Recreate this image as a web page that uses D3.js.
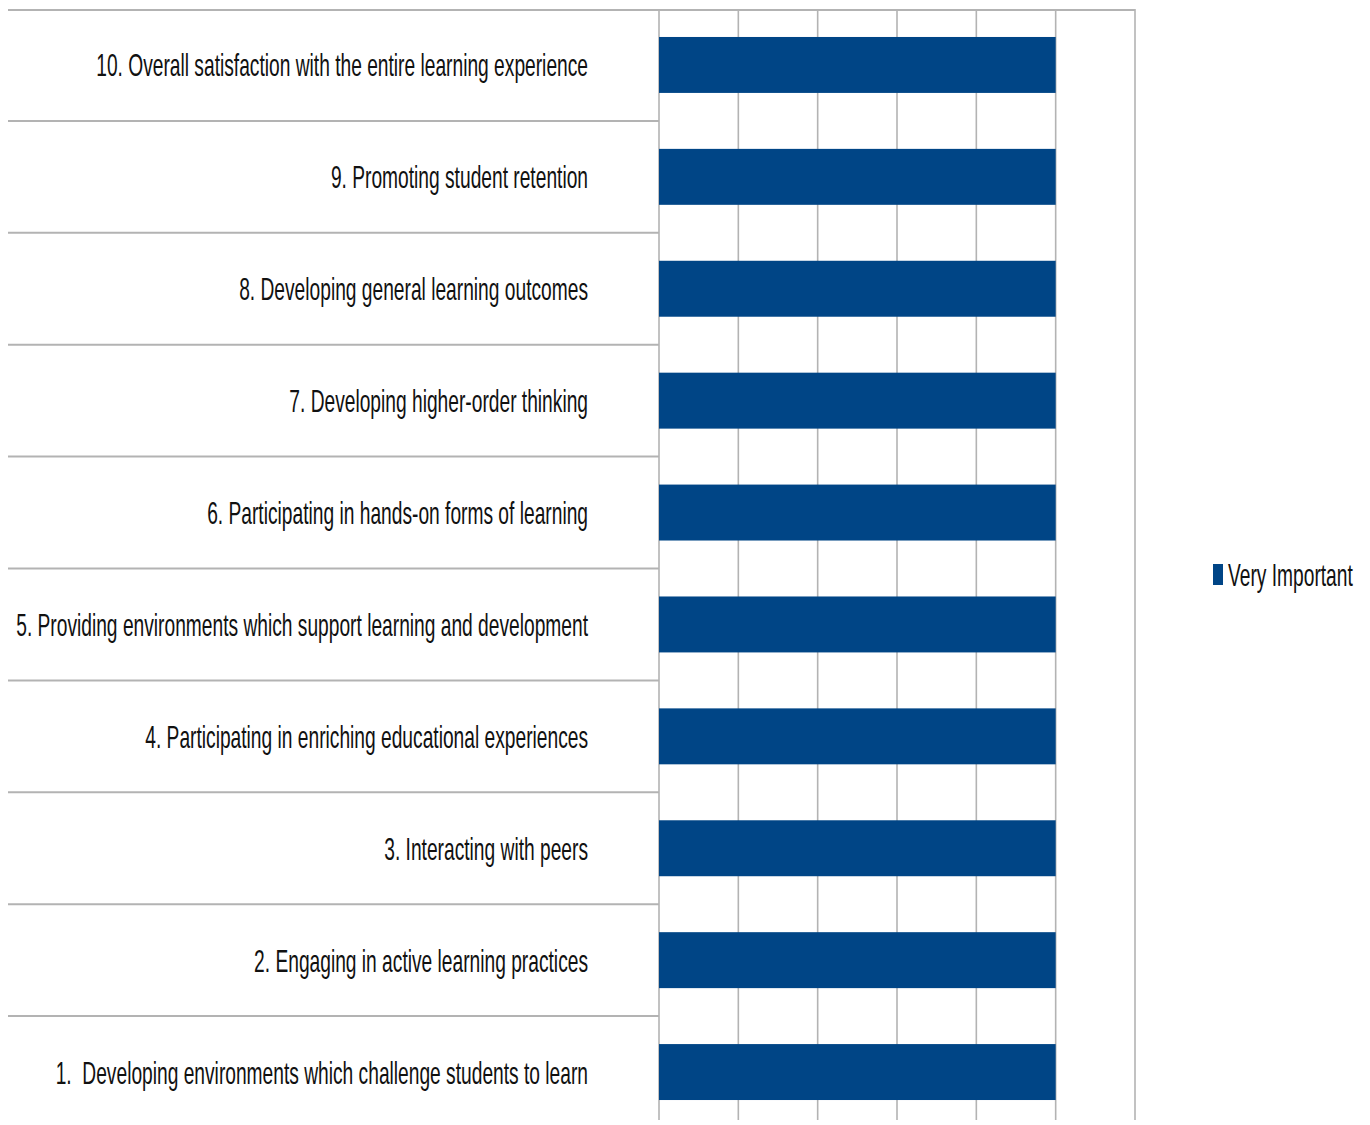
<!DOCTYPE html>
<html>
<head>
<meta charset="utf-8">
<script src="https://cdn.jsdelivr.net/npm/d3@7"></script>
<style>
  html, body { margin: 0; padding: 0; background: #fff; }
  svg { display: block; }
  text { white-space: pre; }
</style>
</head>
<body>
<svg id="chart" width="1370" height="1125"></svg>
<script>
// Outcome statements, listed top to bottom as they appear
const categories = [
  "10. Overall satisfaction with the entire learning experience",
  "9. Promoting student retention",
  "8. Developing general learning outcomes",
  "7. Developing higher-order thinking",
  "6. Participating in hands-on forms of learning",
  "5. Providing environments which support learning and development",
  "4. Participating in enriching educational experiences",
  "3. Interacting with peers",
  "2. Engaging in active learning practices",
  "1.  Developing environments which challenge students to learn"
];
const seriesName = "Very Important";
const veryImportant = [5, 5, 5, 5, 5, 5, 5, 5, 5, 5];
const xTicks = [0, 1, 2, 3, 4, 5, 6];

const svg = d3.select("#chart");
const barColor = "#004586";
const gridColor = "#b3b3b3";
const fontFamily = "'Liberation Sans', Arial, sans-serif";
const fontSize = 32;
const squeeze = 0.6;

const plotLeft = 659, plotRight = 1135, plotTop = 9, plotBottom = 1128;
const labelLeft = 8;

const x = d3.scaleLinear().domain([0, 6]).range([plotLeft, plotRight]);
const y = d3.scaleBand().domain(categories).range([plotTop, plotBottom]).paddingInner(0.5).paddingOuter(0.25);
const rows = d3.scaleBand().domain(categories).range([plotTop, plotBottom]);

// vertical gridlines
svg.append("g")
  .selectAll("line")
  .data(xTicks)
  .join("line")
  .attr("x1", d => x(d)).attr("x2", d => x(d))
  .attr("y1", plotTop).attr("y2", 1120)
  .attr("stroke", gridColor)
  .attr("stroke-width", 1.6);

// top border across the table and plot
svg.append("line")
  .attr("x1", labelLeft).attr("x2", plotRight)
  .attr("y1", plotTop + 1).attr("y2", plotTop + 1)
  .attr("stroke", gridColor).attr("stroke-width", 2);

// row separators in the label column
svg.append("g")
  .selectAll("line")
  .data(categories.slice(1))
  .join("line")
  .attr("x1", labelLeft).attr("x2", plotLeft)
  .attr("y1", d => rows(d)).attr("y2", d => rows(d))
  .attr("stroke", gridColor)
  .attr("stroke-width", 2);

// bars
svg.append("g")
  .selectAll("rect")
  .data(categories.map((c, i) => ({ c, v: veryImportant[i] })))
  .join("rect")
  .attr("x", x(0))
  .attr("y", d => y(d.c))
  .attr("width", d => x(d.v) - x(0))
  .attr("height", y.bandwidth())
  .attr("fill", barColor);

// category labels
svg.append("g")
  .selectAll("text")
  .data(categories)
  .join("text")
  .attr("transform", d => `translate(588,${rows(d) + rows.bandwidth() / 2 + fontSize * 0.36}) scale(${squeeze},1)`)
  .attr("text-anchor", "end")
  .attr("font-family", fontFamily)
  .attr("font-size", fontSize)
  .attr("fill", "#111")
  .text(d => d);

// legend
const legend = svg.append("g").attr("transform", "translate(1213,574)");
legend.append("rect")
  .attr("x", 0).attr("y", -10)
  .attr("width", 10).attr("height", 21)
  .attr("fill", barColor);
legend.append("text")
  .attr("transform", `translate(15,${fontSize * 0.36}) scale(${squeeze},1)`)
  .attr("font-family", fontFamily)
  .attr("font-size", fontSize)
  .attr("fill", "#111")
  .text(seriesName);
</script>
</body>
</html>
